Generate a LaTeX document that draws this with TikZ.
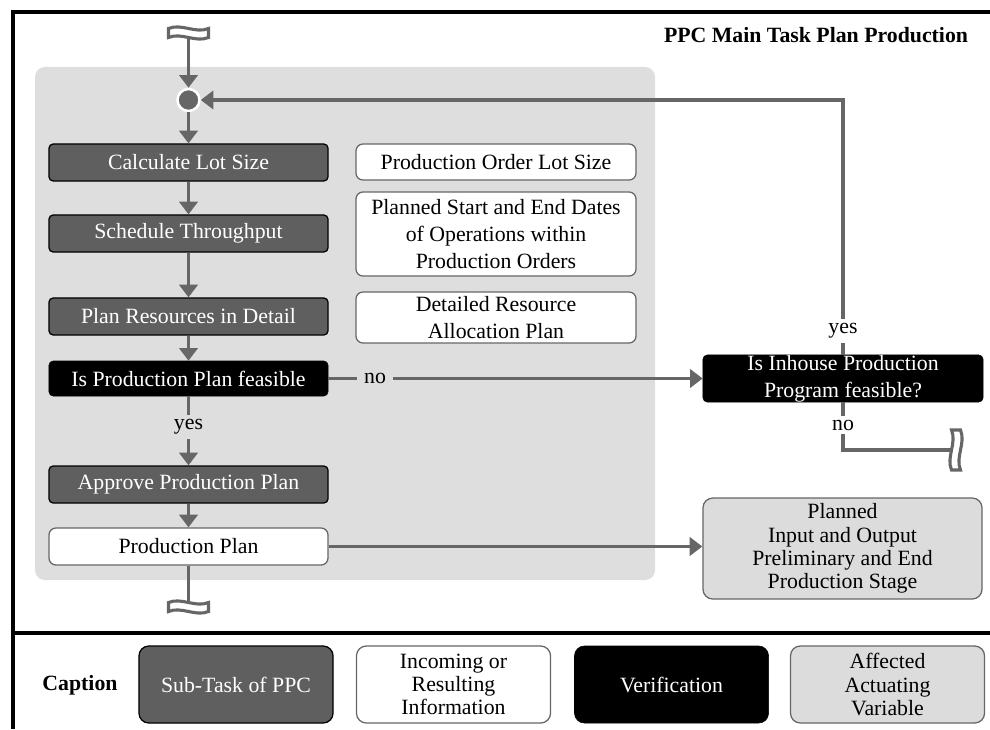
\documentclass[tikz,border=0pt]{standalone}
\usepackage{fontspec}
\setmainfont{Liberation Serif}
\newfontfamily\ppcserif{Liberation Serif}
\usetikzlibrary{arrows.meta}

\definecolor{subgray}{HTML}{5F5F5F}
\definecolor{flowgray}{HTML}{666666}
\definecolor{panelgray}{HTML}{DEDEDE}
\definecolor{varfill}{HTML}{DCDCDC}

\newcommand{\ppcfont}{\ppcserif\fontsize{15.5}{19}\selectfont}
\newcommand{\ppcfonttight}{\ppcserif\fontsize{15.5}{16.5}\selectfont}

\tikzset{
  subtask/.style={draw=black, line width=0.9pt, fill=subgray, text=white, rounded corners=3pt,
    minimum width=6.975cm, minimum height=0.925cm, inner sep=0pt},
  info/.style={draw=flowgray, line width=0.9pt, fill=white, rounded corners=5pt, align=center,
    minimum width=7cm, inner sep=0pt},
  check/.style={draw=black, fill=black, text=white, rounded corners=3pt, align=center, inner sep=0pt},
  affected/.style={draw=flowgray, line width=0.9pt, fill=varfill, rounded corners=7pt, align=center,
    inner sep=0pt},
  flow/.style={draw=flowgray, line width=2.8pt},
  arr/.style={flow, -{Triangle[length=9pt,width=13pt]}},
  lbl/.style={inner xsep=5pt, inner ysep=3pt},
  frame/.style={line width=2.3pt},
  brk/.pic={
    \path[draw=flowgray, line width=2.2pt, fill=white]
      (-20,-4.5) .. controls (-7,-10) and (7,1) .. (20,-4.5) -- (20,4.5)
      .. controls (7,10) and (-7,-1) .. (-20,4.5) -- cycle;
  }
}

\begin{document}
\begin{tikzpicture}[x=0.025cm, y=-0.025cm, font=\ppcfont]
\useasboundingbox (0,0) rectangle (990,729);

% frame and title
\draw[frame] (990,12) -- (13,12) -- (13,729);
\draw[frame] (13,633) -- (990,633);
\node[font=\ppcfont\bfseries, anchor=east] (title) at (973,35) {PPC Main Task Plan Production};

% grey area
\fill[panelgray, rounded corners=7pt] (35,67) rectangle (655,580);

% sub-tasks and checks
\node[circle, fill=flowgray, draw=white, line width=1.8pt, minimum size=0.55cm, inner sep=0pt] (join) at (188.5,100) {};
\node[subtask] (lot) at (188.5,162.5) {Calculate Lot Size};
\node[subtask] (sched) at (188.5,233.5) {Schedule Throughput};
\node[subtask] (res) at (188.5,316.5) {Plan Resources in Detail};
\node[check, minimum width=6.975cm, minimum height=0.875cm] (feas) at (188.5,378.5) {Is Production Plan feasible};
\node[subtask] (approve) at (188.5,484.5) {Approve Production Plan};
\node[info, minimum width=6.975cm, minimum height=0.925cm] (plan) at (188.5,546.5) {Production Plan};

% information
\node[info, minimum height=0.9cm] (lotinfo) at (496,162) {Production Order Lot Size};
\node[info, minimum height=2.1cm] (dates) at (496,234) {Planned Start and End Dates\\of Operations within\\Production Orders};
\node[info, minimum height=1.275cm] (alloc) at (496,317.5) {Detailed Resource\\Allocation Plan};

% right side
\node[check, minimum width=7cm, minimum height=1.175cm] (inhouse) at (843,378.5) {Is Inhouse Production\\Program feasible?};
\node[affected, minimum width=6.975cm, minimum height=2.525cm, font=\ppcfonttight] (stage) at (842.5,548.5) {Planned\\Input and Output\\Preliminary and End\\Production Stage};

\coordinate (start) at (188.5,33);
\coordinate (stop) at (188.5,607);
\coordinate (exit) at (956,450);

% connectors
\draw[arr] (start) -- (join);
\draw[arr] (join) -- (lot);
\draw[arr] (lot) -- (sched);
\draw[arr] (sched) -- (res);
\draw[arr] (res) -- (feas);
\draw[arr] (feas) -- (approve);
\draw[arr] (approve) -- (plan);
\draw[flow] (plan) -- (stop);
\draw[arr] (feas) -- (inhouse);
\draw[arr] (inhouse.north) |- (join);
\draw[flow] (inhouse.south) |- (exit);
\draw[arr] (plan.east) -- (plan.east -| stage.west);

\node[lbl, fill=panelgray] (no1) at (375,378.5) {no};
\node[lbl, fill=panelgray] (yes1) at (188.5,427) {yes};
\node[lbl, fill=white] (yes2) at (843,331) {yes};
\node[lbl, fill=white] (no2) at (843,425) {no};

\pic at (start) {brk};
\pic at (stop) {brk};
\pic[rotate=90] at (exit) {brk};

% caption
\node[font=\ppcfont\bfseries] (cap) at (80,685) {Caption};
\node[subtask, minimum width=4.85cm, minimum height=1.925cm, rounded corners=7pt] (capsub) at (236,684.5) {Sub-Task of PPC};
\node[info, minimum width=4.85cm, minimum height=1.925cm, rounded corners=7pt, font=\ppcfonttight] (capinfo) at (453.5,684.5) {Incoming or\\Resulting\\Information};
\node[check, minimum width=4.85cm, minimum height=1.925cm, rounded corners=7pt] (capcheck) at (671.5,684.5) {Verification};
\node[affected, minimum width=4.85cm, minimum height=1.925cm, font=\ppcfonttight] (capvar) at (887.5,684.5) {Affected\\Actuating\\Variable};
\end{tikzpicture}
\end{document}
